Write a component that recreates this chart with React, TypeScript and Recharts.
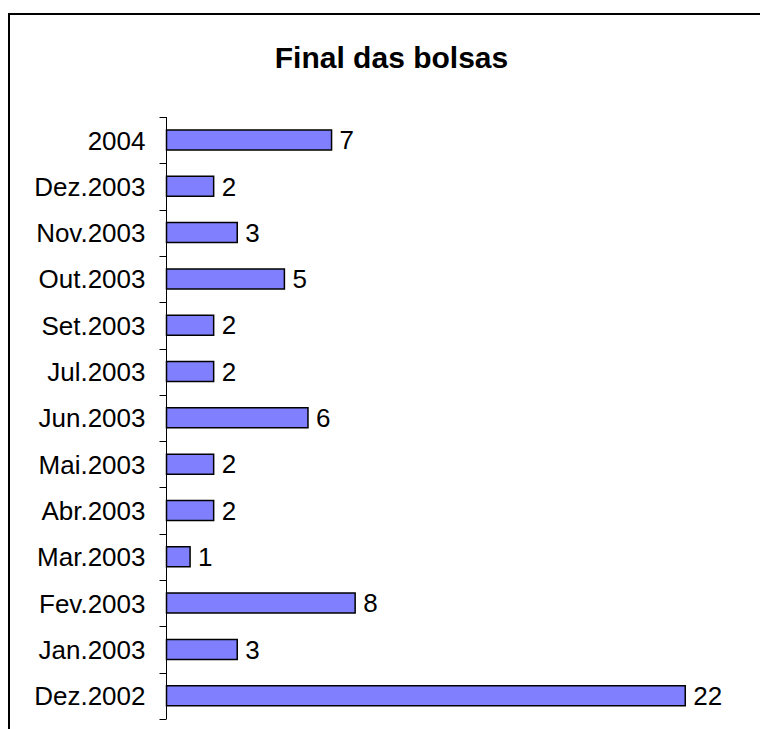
import React from 'react';
import { BarChart, Bar, XAxis, YAxis, LabelList } from 'recharts';

// categories top to bottom, as shown in the chart
const months = [
  '2004',
  'Dez.2003',
  'Nov.2003',
  'Out.2003',
  'Set.2003',
  'Jul.2003',
  'Jun.2003',
  'Mai.2003',
  'Abr.2003',
  'Mar.2003',
  'Fev.2003',
  'Jan.2003',
  'Dez.2002',
];
const counts = [7, 2, 3, 5, 2, 2, 6, 2, 2, 1, 8, 3, 22];

const data = months.map((m, i) => ({ month: m, count: counts[i] }));

const WIDTH = 760;
const HEIGHT = 729;
const MARGIN = { top: 117, right: 4, bottom: 10, left: 0 };
const FONT = '"Liberation Sans", Arial, sans-serif';

const plotHeight = HEIGHT - MARGIN.top - MARGIN.bottom;
const band = plotHeight / months.length;

function CategoryTick(props: any) {
  const { x, y, payload, index } = props;
  const top = Math.round(y - band / 2) + 0.5;
  const bottom = Math.round(y + band / 2) + 0.5;
  const last = index === months.length - 1;
  return (
    <g>
      <line x1={x - 7} x2={x} y1={top} y2={top} stroke="#000" strokeWidth={1} />
      {last && (
        <line x1={x - 7} x2={x} y1={bottom} y2={bottom} stroke="#000" strokeWidth={1} />
      )}
      <text
        x={x - 21}
        y={y}
        dy="0.36em"
        textAnchor="end"
        fill="#000"
        fontSize={26}
        fontFamily={FONT}
      >
        {payload.value}
      </text>
    </g>
  );
}

export default function App() {
  return (
    <div
      style={{
        position: 'absolute',
        left: 0,
        top: 0,
        width: WIDTH,
        height: HEIGHT,
        overflow: 'hidden',
        background: '#fff',
      }}
    >
      <div
        style={{
          position: 'absolute',
          left: 8,
          top: 13,
          width: WIDTH,
          height: HEIGHT,
          borderTop: '2px solid #000',
          borderLeft: '2px solid #000',
        }}
      />
      <div
        style={{
          position: 'absolute',
          left: 20,
          top: 43,
          width: 743,
          textAlign: 'center',
          fontFamily: FONT,
          fontWeight: 'bold',
          fontSize: 30,
          lineHeight: 1,
          color: '#000',
        }}
      >
        Final das bolsas
      </div>
      <div style={{ position: 'absolute', left: 0, top: 0 }}>
        <BarChart
          width={WIDTH}
          height={HEIGHT}
          data={data}
          layout="vertical"
          margin={MARGIN}
        >
          <XAxis type="number" domain={[0, 25]} hide />
          <YAxis
            type="category"
            dataKey="month"
            width={166.5}
            axisLine={{ stroke: '#000', strokeWidth: 1 }}
            tickLine={false}
            tickSize={0}
            tickMargin={0}
            tick={<CategoryTick />}
            interval={0}
          />
          <Bar
            dataKey="count"
            fill="#8080FF"
            stroke="#000"
            strokeWidth={1.5}
            barSize={20}
            isAnimationActive={false}
          >
            <LabelList
              dataKey="count"
              position="right"
              offset={8}
              fill="#000"
              fontSize={26}
              fontFamily={FONT}
            />
          </Bar>
        </BarChart>
      </div>
    </div>
  );
}
